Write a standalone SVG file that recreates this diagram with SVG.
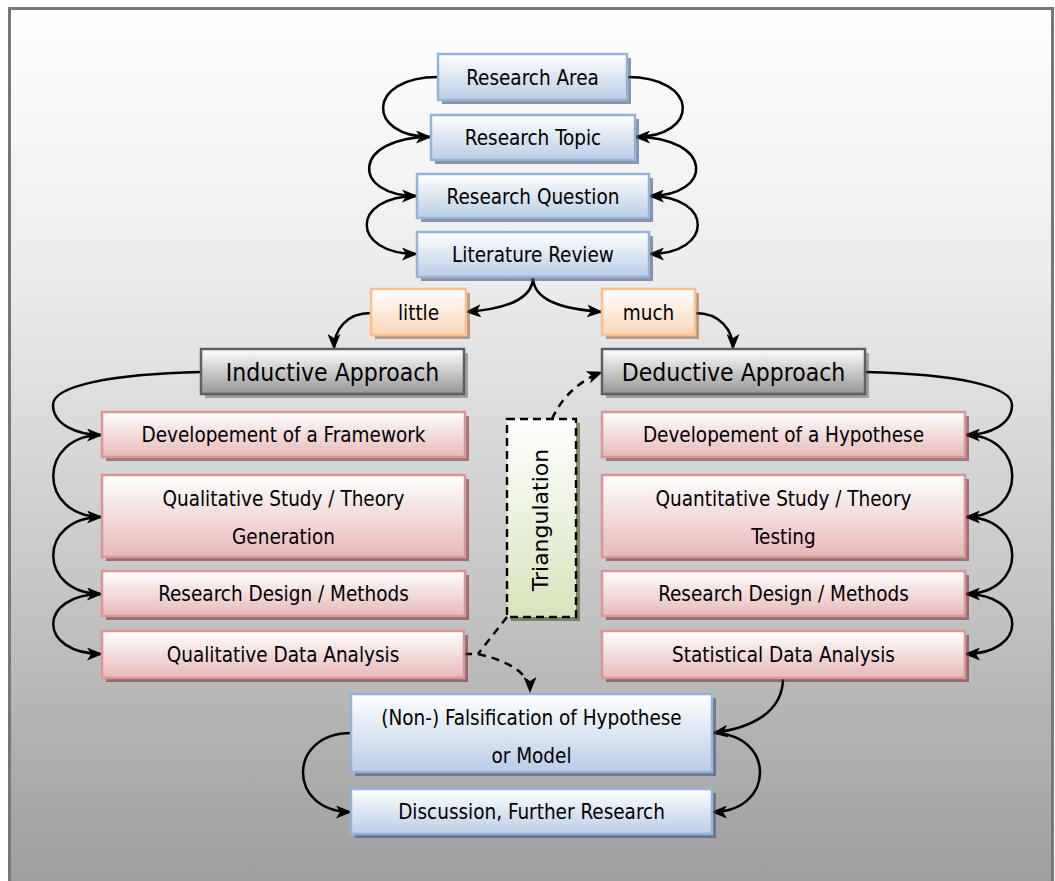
<svg xmlns="http://www.w3.org/2000/svg" width="1055" height="881" viewBox="0 0 1055 881">
<defs>
<linearGradient id="bg" x1="0" y1="0" x2="0" y2="1">
<stop offset="0" stop-color="#ffffff"/>
<stop offset="0.3" stop-color="#ececec"/>
<stop offset="0.6" stop-color="#cbcbcb"/>
<stop offset="1" stop-color="#9a9a9a"/>
</linearGradient>
<linearGradient id="gBlue" x1="0" y1="0" x2="0" y2="1">
<stop offset="0" stop-color="#ffffff"/>
<stop offset="1" stop-color="#b9cde5"/>
</linearGradient>
<linearGradient id="gPink" x1="0" y1="0" x2="0" y2="1">
<stop offset="0" stop-color="#ffffff"/>
<stop offset="1" stop-color="#e6b9b8"/>
</linearGradient>
<linearGradient id="gOrange" x1="0" y1="0" x2="0" y2="1">
<stop offset="0" stop-color="#ffffff"/>
<stop offset="1" stop-color="#fcd5b5"/>
</linearGradient>
<linearGradient id="gGray" x1="0" y1="0" x2="0" y2="1">
<stop offset="0" stop-color="#ffffff"/>
<stop offset="1" stop-color="#959595"/>
</linearGradient>
<linearGradient id="gGreen" x1="0" y1="0" x2="0" y2="1">
<stop offset="0" stop-color="#ffffff"/>
<stop offset="1" stop-color="#d7e4bc"/>
</linearGradient>
<marker id="ah" viewBox="0 0 16 13" refX="15" refY="6.5" markerWidth="16" markerHeight="13" markerUnits="userSpaceOnUse" orient="auto">
<path d="M0,0 L16,6.5 L0,13 L4,6.5 z" fill="#000"/>
</marker>
</defs>
<style>
.t{font-family:'DejaVu Sans Condensed','DejaVu Sans',sans-serif;font-stretch:condensed;font-size:20.5px;fill:#000;text-anchor:middle}
.big{font-size:24.5px}
.tri{font-family:'DejaVu Sans',sans-serif;font-size:22px;fill:#000;text-anchor:middle}
.blue{fill:url(#gBlue);stroke:#95b3d7;stroke-width:2.5}
.pink{fill:url(#gPink);stroke:#d99694;stroke-width:2.5}
.orange{fill:url(#gOrange);stroke:#fac090;stroke-width:2.5}
.gray{fill:url(#gGray);stroke:#5f5f5f;stroke-width:2.5}
.green{fill:url(#gGreen);stroke:#000;stroke-width:2.4;stroke-dasharray:8 5}
.sb{fill:#3e5476;opacity:0.6}
.sp{fill:#6e2a2a;opacity:0.55}
.so{fill:#8a5020;opacity:0.5}
.sg{fill:#404040;opacity:0.4}
.sn{fill:#4a5a20;opacity:0.6}
.c{fill:none;stroke:#000;stroke-width:2.5}
.ca{fill:none;stroke:#000;stroke-width:2.5;marker-end:url(#ah)}
.d{fill:none;stroke:#000;stroke-width:2.5;stroke-dasharray:8 6}
.da{fill:none;stroke:#000;stroke-width:2.5;stroke-dasharray:8 6;marker-end:url(#ah)}
</style>
<rect x="0" y="0" width="1055" height="881" fill="#ffffff"/>
<rect x="9.5" y="8.5" width="1043" height="900" fill="url(#bg)" stroke="#777777" stroke-width="3"/>

<g id="connectors">
<path class="ca" d="M438 77 C366 77 366 137 431 137"/>
<path class="ca" d="M431 137 C351 137 351 196 417 196"/>
<path class="ca" d="M417 196 C350 196 350 254 417 254"/>
<path class="ca" d="M627 77 C700 77 700 137 635 137"/>
<path class="ca" d="M635 137 C714 137 714 196 649 196"/>
<path class="ca" d="M649 196 C714 196 714 254 649 254"/>
<path class="ca" d="M533 277 C533 300 505 309 466 312"/>
<path class="ca" d="M533 277 C533 300 561 309 602 312"/>
<path class="ca" d="M371 313 C346 313 334 330 334 349"/>
<path class="ca" d="M695 313 C720 313 733 330 733 349"/>
<path class="ca" d="M201 372 C110 374 53 386 53 405 C53 424 76 435 102 435"/>
<path class="ca" d="M102 435 C37 435 37 517 102 517"/>
<path class="ca" d="M102 517 C37 517 37 594 102 594"/>
<path class="ca" d="M102 594 C37 594 37 654 102 654"/>
<path class="ca" d="M865 372 C956 374 1012 386 1012 405 C1012 424 990 435 965 435"/>
<path class="ca" d="M965 435 C1028 435 1028 517 965 517"/>
<path class="ca" d="M965 517 C1028 517 1028 594 965 594"/>
<path class="ca" d="M965 594 C1028 594 1028 654 965 654"/>
<path class="da" d="M552 419 C560 400 578 381 602 372"/>
<path class="d" d="M507 617 L478 654"/>
<path class="da" d="M464 654 L478 654 C505 660 530 672 530 692"/>
<path class="ca" d="M783 678 C783 712 752 728 713 733"/>
<path class="ca" d="M351 733 C287 733 287 812 351 812"/>
<path class="ca" d="M712 733 C776 733 776 812 712 812"/>
</g>

<g id="research-area"><rect class="sb" x="442" y="58" width="189" height="46"/><rect class="blue" x="438" y="54" width="189" height="46"/><text class="t" x="532.5" y="85">Research Area</text></g>
<g id="research-topic"><rect class="sb" x="435" y="119" width="204" height="45"/><rect class="blue" x="431" y="115" width="204" height="45"/><text class="t" x="533" y="145">Research Topic</text></g>
<g id="research-question"><rect class="sb" x="421" y="178" width="232" height="44"/><rect class="blue" x="417" y="174" width="232" height="44"/><text class="t" x="533" y="203.5">Research Question</text></g>
<g id="literature-review"><rect class="sb" x="421" y="236" width="232" height="45"/><rect class="blue" x="417" y="232" width="232" height="45"/><text class="t" x="533" y="262">Literature Review</text></g>

<g id="little"><rect class="so" x="375" y="293" width="95" height="46"/><rect class="orange" x="371" y="289" width="95" height="46"/><text class="t" x="418.5" y="319.5">little</text></g>
<g id="much"><rect class="so" x="606" y="293" width="93" height="46"/><rect class="orange" x="602" y="289" width="93" height="46"/><text class="t" x="648.5" y="319.5">much</text></g>

<g id="inductive"><rect class="sg" x="205" y="353" width="263" height="45"/><rect class="gray" x="201" y="349" width="263" height="45"/><text class="t big" x="332.5" y="380.5">Inductive Approach</text></g>
<g id="deductive"><rect class="sg" x="606" y="353" width="263" height="45"/><rect class="gray" x="602" y="349" width="263" height="45"/><text class="t big" x="733.5" y="380.5">Deductive Approach</text></g>

<g id="framework"><rect class="sp" x="106" y="416" width="363" height="45"/><rect class="pink" x="102" y="412" width="363" height="45"/><text class="t" x="283.5" y="442">Developement of a Framework</text></g>
<g id="qual-study"><rect class="sp" x="106" y="479" width="363" height="82"/><rect class="pink" x="102" y="475" width="363" height="82"/><text class="t" x="283.5" y="506">Qualitative Study / Theory</text><text class="t" x="283.5" y="544">Generation</text></g>
<g id="rd-left"><rect class="sp" x="106" y="575" width="363" height="45"/><rect class="pink" x="102" y="571" width="363" height="45"/><text class="t" x="283.5" y="601">Research Design / Methods</text></g>
<g id="qda"><rect class="sp" x="106" y="635" width="362" height="47"/><rect class="pink" x="102" y="631" width="362" height="47"/><text class="t" x="283" y="662">Qualitative Data Analysis</text></g>

<g id="hypothese"><rect class="sp" x="606" y="416" width="363" height="45"/><rect class="pink" x="602" y="412" width="363" height="45"/><text class="t" x="783.5" y="442">Developement of a Hypothese</text></g>
<g id="quant-study"><rect class="sp" x="606" y="479" width="363" height="82"/><rect class="pink" x="602" y="475" width="363" height="82"/><text class="t" x="783.5" y="506">Quantitative Study / Theory</text><text class="t" x="783.5" y="544">Testing</text></g>
<g id="rd-right"><rect class="sp" x="606" y="575" width="363" height="45"/><rect class="pink" x="602" y="571" width="363" height="45"/><text class="t" x="783.5" y="601">Research Design / Methods</text></g>
<g id="sda"><rect class="sp" x="606" y="635" width="363" height="47"/><rect class="pink" x="602" y="631" width="363" height="47"/><text class="t" x="783.5" y="662">Statistical Data Analysis</text></g>

<g id="triangulation"><rect class="sn" x="511" y="423" width="69" height="198"/><rect class="green" x="507" y="419" width="69" height="198"/><text class="tri" x="548" y="520" transform="rotate(-90 548 520)">Triangulation</text></g>

<g id="falsification"><rect class="sb" x="355" y="698" width="361" height="78"/><rect class="blue" x="351" y="694" width="361" height="78"/><text class="t" x="531.5" y="725">(Non-) Falsification of Hypothese</text><text class="t" x="531.5" y="763">or Model</text></g>
<g id="discussion"><rect class="sb" x="355" y="793" width="361" height="45"/><rect class="blue" x="351" y="789" width="361" height="45"/><text class="t" x="531.5" y="819">Discussion, Further Research</text></g>
</svg>
